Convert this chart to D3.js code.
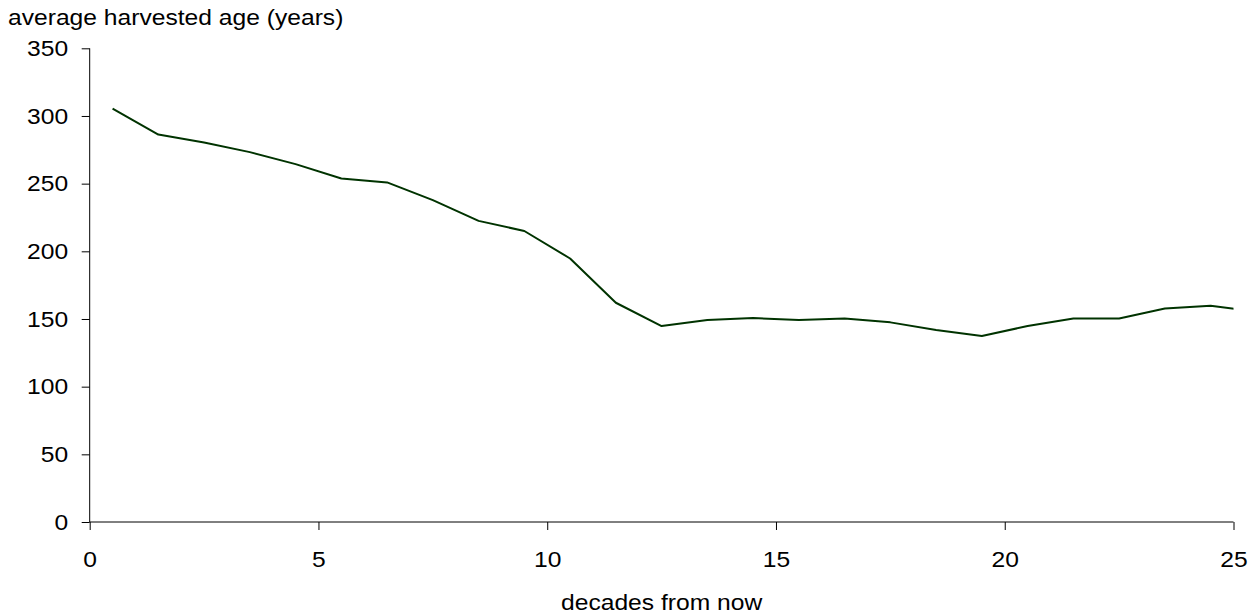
<!DOCTYPE html>
<html>
<head>
<meta charset="utf-8">
<script src="https://cdn.jsdelivr.net/npm/d3@7"></script>
<style>
  html, body { margin: 0; padding: 0; background: #fff; }
  svg { display: block; }
  text { font-family: "Liberation Sans", Arial, sans-serif; fill: #000; }
</style>
</head>
<body>
<svg id="chart" width="1254" height="616"></svg>
<script>
// Data
const decades = [0.5, 1.5, 2.5, 3.5, 4.5, 5.5, 6.5, 7.5, 8.5, 9.5, 10.5, 11.5, 12.5,
                 13.5, 14.5, 15.5, 16.5, 17.5, 18.5, 19.5, 20.5, 21.5, 22.5, 23.5, 24.5, 25.5];
const avgAge = [305.5, 286.3, 280.4, 273.3, 264.4, 253.8, 250.9, 237.8, 222.5, 215.0,
                194.7, 162.0, 144.8, 149.2, 150.7, 149.2, 150.4, 147.5, 141.8, 137.4,
                144.8, 150.4, 150.4, 157.8, 159.8, 155.4];
const xTicks = [0, 5, 10, 15, 20, 25];
const yTicks = [0, 50, 100, 150, 200, 250, 300, 350];
const yTitle = "average harvested age (years)";
const xTitle = "decades from now";

(function () {
const svg = d3.select("#chart");
const mLeft = 89.7, mRight = 1233.5, mTop = 48.3, mBottom = 522;
const fs = 22, sx = 1.12;

const x = d3.scaleLinear().domain([0, 25]).range([mLeft, mRight]);
const y = d3.scaleLinear().domain([0, 350]).range([mBottom, mTop]);

// stretch a text horizontally around its anchor point
function stretch(sel) {
  sel.each(function () {
    const t = d3.select(this);
    const tx = +t.attr("x") || 0, ty = +t.attr("y") || 0;
    t.attr("x", 0).attr("y", 0)
     .attr("transform", `translate(${tx},${ty}) scale(${sx},1)`);
  });
}

svg.append("defs").append("clipPath").attr("id", "plotclip")
  .append("rect").attr("x", mLeft).attr("y", mTop - 5)
  .attr("width", mRight - mLeft).attr("height", mBottom - mTop + 10);

// Y axis
const yAxis = svg.append("g").attr("transform", `translate(${mLeft},0)`)
  .call(d3.axisLeft(y).tickValues(yTicks).tickSize(8).tickSizeOuter(0).tickPadding(13.5));
yAxis.select(".domain").remove();
yAxis.selectAll("line").attr("stroke", "#000").attr("stroke-width", 1);
yAxis.selectAll("text").attr("font-size", fs).attr("font-family", "Liberation Sans, Arial, sans-serif")
  .call(stretch);
yAxis.append("line").attr("x1", 0).attr("x2", 0).attr("y1", mTop).attr("y2", mBottom)
  .attr("stroke", "#000").attr("stroke-width", 1);

// X axis
const xAxis = svg.append("g").attr("transform", `translate(0,${mBottom})`)
  .call(d3.axisBottom(x).tickValues(xTicks).tickSize(8).tickSizeOuter(0).tickPadding(21));
xAxis.select(".domain").remove();
xAxis.selectAll("line").attr("stroke", "#000").attr("stroke-width", 1);
xAxis.selectAll("text").attr("font-size", fs).attr("font-family", "Liberation Sans, Arial, sans-serif")
  .call(stretch);
xAxis.append("line").attr("x1", mLeft).attr("x2", mRight).attr("y1", 0).attr("y2", 0)
  .attr("stroke", "#000").attr("stroke-width", 1);

// Line
const line = d3.line().x((d, i) => x(decades[i])).y(d => y(d));
svg.append("path")
  .datum(avgAge)
  .attr("clip-path", "url(#plotclip)")
  .attr("fill", "none")
  .attr("stroke", "#003300")
  .attr("stroke-width", 2)
  .attr("stroke-linejoin", "round")
  .attr("d", line);

// Titles
svg.append("text").attr("x", 8).attr("y", 25).attr("font-size", fs)
  .text(yTitle).call(stretch);
svg.append("text").attr("x", (mLeft + mRight) / 2).attr("y", 610)
  .attr("text-anchor", "middle").attr("font-size", fs)
  .text(xTitle).call(stretch);
})();
</script>
</body>
</html>
